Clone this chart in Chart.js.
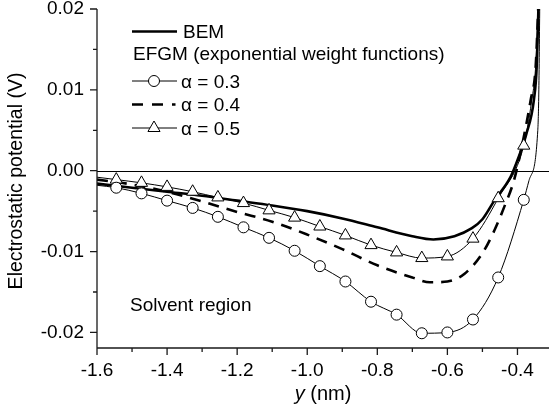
<!DOCTYPE html>
<html>
<head>
<meta charset="utf-8">
<script src="https://cdn.jsdelivr.net/npm/chart.js@4.4.1/dist/chart.umd.min.js"></script>
<style>
  html, body { margin: 0; padding: 0; background: #fff; }
</style>
</head>
<body>
<canvas id="myChart" width="557" height="410"></canvas>
<script>
// tick values
const xTicks = [-1.6, -1.4, -1.2, -1.0, -0.8, -0.6, -0.4];
const xMinor = [-1.5, -1.3, -1.1, -0.9, -0.7, -0.5, -0.3];
const yTicks = [-0.02, -0.01, 0, 0.01, 0.02];
const yMinor = [-0.015, -0.005, 0.005, 0.015];

// BEM (thick solid line)
const bemX = [-1.6, -1.5, -1.4, -1.3, -1.2, -1.1, -1.0, -0.9, -0.8, -0.7, -0.64, -0.58, -0.53, -0.5, -0.466, -0.42, -0.4, -0.375, -0.353, -0.345, -0.339];
const bemY = [-0.0016, -0.0021, -0.0026, -0.0031, -0.0037, -0.0043, -0.0050, -0.0059, -0.0070, -0.0081, -0.0085, -0.0081, -0.0071, -0.0060, -0.0037, -0.0008, 0.0013, 0.0045, 0.0088, 0.0130, 0.0220];

// EFGM alpha = 0.3 (circles)
const a03X = [-1.545, -1.473, -1.400, -1.327, -1.255, -1.182, -1.109, -1.036, -0.964, -0.891, -0.818, -0.745, -0.673, -0.600, -0.527, -0.455, -0.382];
const a03Y = [-0.0021, -0.0028, -0.0037, -0.0046, -0.0057, -0.0070, -0.0083, -0.0099, -0.0118, -0.0137, -0.0162, -0.0178, -0.0201, -0.0200, -0.0184, -0.0132, -0.0036];
const a03EndX = [-1.6, -0.367, -0.342, -0.339, -0.336];
const a03EndY = [-0.0018, -0.0012, 0.0050, 0.0100, 0.0220];

// EFGM alpha = 0.4 (dashed line)
const a04X = [-1.6, -1.5, -1.4, -1.3, -1.2, -1.1, -1.0, -0.9, -0.8, -0.7, -0.65, -0.6, -0.55, -0.5, -0.466, -0.438, -0.41, -0.39, -0.362, -0.348, -0.339];
const a04Y = [-0.0011, -0.0017, -0.0026, -0.0038, -0.0051, -0.0063, -0.0079, -0.0097, -0.0117, -0.0132, -0.0138, -0.0137, -0.0127, -0.0102, -0.0074, -0.0045, -0.0012, 0.0025, 0.0088, 0.0129, 0.0220];

// EFGM alpha = 0.5 (triangles)
const a05X = [-1.545, -1.473, -1.400, -1.327, -1.255, -1.182, -1.109, -1.036, -0.964, -0.891, -0.818, -0.745, -0.673, -0.600, -0.527, -0.455, -0.382];
const a05Y = [-0.0011, -0.0015, -0.0020, -0.0026, -0.0033, -0.0040, -0.0049, -0.0058, -0.0069, -0.0080, -0.0092, -0.0101, -0.0108, -0.0106, -0.0084, -0.0034, 0.0031];
const a05EndX = [-1.6, -0.36, -0.348, -0.339];
const a05EndY = [-0.0008, 0.0085, 0.0130, 0.0220];

const FONT = '"Liberation Sans", Arial, sans-serif';
const DASH = [11, 8];

function pts(xs, ys) {
    return xs.map((x, i) => ({x: x, y: ys[i]}));
}
function mergePts(xs, ys, xs2, ys2) {
    return pts(xs, ys).concat(pts(xs2, ys2)).sort((a, b) => a.x - b.x);
}

// axes, ticks, zero line, titles and legend
const decorations = {
    id: 'decorations',
    beforeDatasetsDraw(chart) {
        const {ctx, chartArea: a, scales: {x, y}} = chart;
        ctx.save();
        ctx.strokeStyle = '#000';
        ctx.lineWidth = 1;
        const y0 = Math.round(y.getPixelForValue(0)) + 0.5;
        ctx.beginPath();
        ctx.moveTo(a.left, y0);
        ctx.lineTo(a.right, y0);
        ctx.stroke();
        ctx.restore();
    },
    afterDraw(chart) {
        const {ctx, chartArea: a, scales: {x, y}} = chart;
        ctx.save();
        ctx.strokeStyle = '#1a1a1a';
        ctx.lineWidth = 1.3;
        ctx.beginPath();
        ctx.moveTo(a.left, a.top);
        ctx.lineTo(a.left, a.bottom + 1);
        ctx.lineTo(a.right, a.bottom + 1);
        xTicks.forEach(v => {
            const px = x.getPixelForValue(v);
            ctx.moveTo(px, a.bottom + 1);
            ctx.lineTo(px, a.bottom + 8);
        });
        xMinor.forEach(v => {
            const px = x.getPixelForValue(v);
            if (px > a.right) return;
            ctx.moveTo(px, a.bottom + 1);
            ctx.lineTo(px, a.bottom + 5);
        });
        yTicks.forEach(v => {
            const py = y.getPixelForValue(v);
            ctx.moveTo(a.left, py);
            ctx.lineTo(a.left - 7, py);
        });
        yMinor.forEach(v => {
            const py = y.getPixelForValue(v);
            ctx.moveTo(a.left, py);
            ctx.lineTo(a.left - 4, py);
        });
        ctx.stroke();

        // axis titles
        ctx.fillStyle = '#000';
        ctx.font = '19.5px ' + FONT;
        ctx.save();
        ctx.translate(17, 181);
        ctx.rotate(-Math.PI / 2);
        ctx.textAlign = 'center';
        ctx.textBaseline = 'middle';
        ctx.fillText('Electrostatic potential (V)', 0, 0);
        ctx.restore();

        ctx.textBaseline = 'alphabetic';
        ctx.textAlign = 'left';
        const it = 'italic 20px ' + FONT;
        const rest = ' (nm)';
        ctx.font = it;
        const w1 = ctx.measureText('y').width;
        ctx.font = '20px ' + FONT;
        const w2 = ctx.measureText(rest).width;
        const cx = (a.left + a.right) / 2 - (w1 + w2) / 2;
        ctx.font = it;
        ctx.fillText('y', cx, 400);
        ctx.font = '20px ' + FONT;
        ctx.fillText(rest, cx + w1, 400);

        // region label
        ctx.font = '19px ' + FONT;
        ctx.fillText('Solvent region', 130, 311);

        // legend
        const lx0 = 132, lx1 = 177;
        ctx.strokeStyle = '#000';
        ctx.lineWidth = 2.6;
        ctx.beginPath();
        ctx.moveTo(lx0, 31.5);
        ctx.lineTo(lx1, 31.5);
        ctx.stroke();
        ctx.fillText('BEM', 183, 38);
        ctx.fillText('EFGM (exponential weight functions)', 133, 60);

        ctx.lineWidth = 1;
        ctx.beginPath();
        ctx.moveTo(lx0, 81);
        ctx.lineTo(lx1, 81);
        ctx.stroke();
        ctx.beginPath();
        ctx.arc(154, 81, 5.5, 0, Math.PI * 2);
        ctx.fillStyle = '#fff';
        ctx.fill();
        ctx.stroke();
        ctx.fillStyle = '#000';
        ctx.fillText('\u03b1 = 0.3', 181, 87.5);

        ctx.lineWidth = 2.6;
        ctx.setLineDash([11, 9]);
        ctx.beginPath();
        ctx.moveTo(lx0, 104.5);
        ctx.lineTo(lx0 + 43.5, 104.5);
        ctx.stroke();
        ctx.setLineDash([]);
        ctx.fillText('\u03b1 = 0.4', 181, 111);

        ctx.lineWidth = 1;
        ctx.beginPath();
        ctx.moveTo(lx0, 128);
        ctx.lineTo(lx1, 128);
        ctx.stroke();
        const r = 7;
        ctx.beginPath();
        ctx.moveTo(154, 128 - r);
        ctx.lineTo(154 + r * Math.sin(2 * Math.PI / 3), 128 + r / 2);
        ctx.lineTo(154 - r * Math.sin(2 * Math.PI / 3), 128 + r / 2);
        ctx.closePath();
        ctx.fillStyle = '#fff';
        ctx.fill();
        ctx.stroke();
        ctx.fillStyle = '#000';
        ctx.fillText('\u03b1 = 0.5', 181, 134.5);
        ctx.restore();
    }
};

const lineBase = {
    showLine: true,
    pointRadius: 0,
    borderColor: '#000',
    cubicInterpolationMode: 'monotone',
    fill: false
};

const data = {
    datasets: [
        Object.assign({}, lineBase, {
            label: 'BEM', data: pts(bemX, bemY), borderWidth: 2.6, order: 5
        }),
        Object.assign({}, lineBase, {
            label: 'alpha = 0.4', data: pts(a04X, a04Y), borderWidth: 2.6, borderDash: DASH, order: 4
        }),
        Object.assign({}, lineBase, {
            label: 'alpha = 0.3', data: mergePts(a03X, a03Y, a03EndX, a03EndY), borderWidth: 1, order: 6
        }),
        Object.assign({}, lineBase, {
            label: 'alpha = 0.5', data: mergePts(a05X, a05Y, a05EndX, a05EndY), borderWidth: 1, order: 6
        }),
        {
            label: 'alpha = 0.3 nodes', data: pts(a03X, a03Y), showLine: false,
            pointStyle: 'circle', pointRadius: 5.5, pointBackgroundColor: '#fff',
            pointBorderColor: '#000', pointBorderWidth: 1, order: 1
        },
        {
            label: 'alpha = 0.5 nodes', data: pts(a05X, a05Y), showLine: false,
            pointStyle: 'triangle', pointRadius: 7, pointBackgroundColor: '#fff',
            pointBorderColor: '#000', pointBorderWidth: 1, order: 2
        }
    ]
};

const config = {
    type: 'scatter',
    data: data,
    options: {
        responsive: false,
        animation: false,
        events: [],
        layout: { padding: 0 },
        plugins: {
            legend: { display: false },
            tooltip: { enabled: false }
        },
        scales: {
            x: {
                type: 'linear',
                min: -1.6,
                max: -0.31,
                afterBuildTicks: s => { s.ticks = xTicks.map(v => ({value: v})); },
                afterFit: s => { s.height = 63; s.paddingLeft = 0; s.paddingRight = 0; },
                grid: { display: false, drawTicks: false },
                border: { display: false },
                ticks: {
                    autoSkip: false,
                    maxRotation: 0,
                    padding: 12,
                    color: '#000',
                    font: { family: FONT, size: 19 },
                    callback: v => v.toFixed(1)
                }
            },
            y: {
                min: -0.0218,
                max: 0.02,
                afterBuildTicks: s => { s.ticks = yTicks.map(v => ({value: v})); },
                afterFit: s => { s.width = 97; s.paddingTop = 9; s.paddingBottom = 0; },
                grid: { display: false, drawTicks: false },
                border: { display: false },
                ticks: {
                    autoSkip: false,
                    padding: 13,
                    color: '#000',
                    font: { family: FONT, size: 19 },
                    callback: v => v.toFixed(2)
                }
            }
        }
    },
    plugins: [decorations]
};

const myChart = new Chart(
    document.getElementById('myChart'),
    config
);
</script>
</body>
</html>
